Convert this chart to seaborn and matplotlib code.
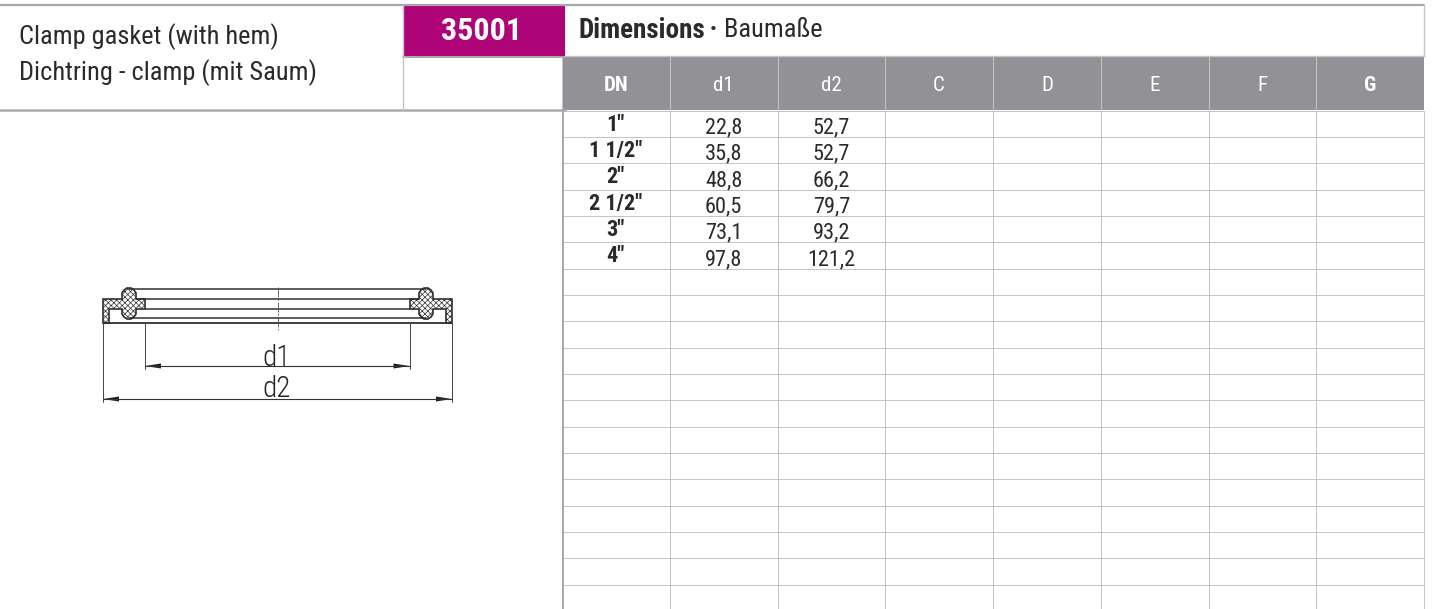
import numpy as np
import pandas as pd
import matplotlib
matplotlib.use('Agg')
import matplotlib.pyplot as plt
import seaborn as sns
from matplotlib.colors import ListedColormap
from matplotlib.patches import Polygon

# table content
columns = ['DN', 'd1', 'd2', 'C', 'D', 'E', 'F', 'G']
dn_sizes = ['1"', '1 1/2"', '2"', '2 1/2"', '3"', '4"']
d1_values = ['22,8', '35,8', '48,8', '60,5', '73,1', '97,8']
d2_values = ['52,7', '52,7', '66,2', '79,7', '93,2', '121,2']
n_rows = 19

title_en = 'Clamp gasket (with hem)'
title_de = 'Dichtring - clamp (mit Saum)'
code = '35001'

W, H = 1432, 609
GRID = '#c4c4c4'
EDGE = '#a9a9ab'
HEAD = '#929195'
MAGENTA = '#ae0478'
INK = '#2b2a2a'
FONT = ['Roboto Condensed', 'Roboto', 'DejaVu Sans']

sns.set_theme(style='white')
plt.rcParams['font.family'] = FONT

fig = plt.figure(figsize=(W / 100, H / 100), dpi=100, facecolor='white')


def px_axes(x0, y0, x1, y1, **kw):
    # axes placed in picture pixels, y going down
    return fig.add_axes([x0 / W, 1 - y1 / H, (x1 - x0) / W, (y1 - y0) / H], **kw)


# page frame and drawing share one pixel canvas
bg = px_axes(0, 0, W, H)
bg.set_xlim(0, W)
bg.set_ylim(H, 0)
bg.axis('off')

bg.fill_between([403, 565], 5, 56, color=MAGENTA, lw=0)
bg.plot([0, 1424], [4.5, 4.5], color=EDGE, lw=1.6)
bg.plot([0, 565], [110, 110], color=EDGE, lw=1.8)
bg.plot([403, 565], [57, 57], color=EDGE, lw=1.4)
bg.plot([403, 403], [5, 110], color=GRID, lw=1.0)
bg.plot([565, 1424], [55.5, 55.5], color=GRID, lw=1.0)
bg.plot([1424, 1424], [5, 56], color=GRID, lw=1.0)

bg.text(19, 36.5, title_en, fontsize=19, color=INK, va='center', ha='left')
bg.text(19, 73, title_de, fontsize=19, color=INK, va='center', ha='left')
bg.text(482, 31, code, fontsize=23, color='white', fontweight='bold', va='center', ha='center')
bg.text(578, 30, 'Dimensions', fontsize=19.5, color=INK, fontweight='bold', va='center', ha='left')
bg.text(713, 30, '•', fontsize=15, color=INK, va='center', ha='center')
bg.text(724, 30, 'Baumaße', fontsize=19, color=INK, va='center', ha='left')

# gasket section, left half, mirrored for the right
section_x = [103, 122, 122, 124, 127, 131, 134, 136, 136, 145, 145, 136, 136, 134, 131,
             127, 124, 122, 122, 109, 109, 103]
section_y = [299, 299, 293, 290, 288, 288, 290, 293, 299, 299, 309, 309, 314, 317, 319,
             319, 317, 314, 309, 309, 323, 323]
plt.rcParams['hatch.linewidth'] = 0.5
for xs in (np.array(section_x), 555 - np.array(section_x)):
    bg.add_patch(Polygon(np.column_stack([xs, section_y]), closed=True, facecolor='white',
                         edgecolor='#303030', hatch='xxxxxx', lw=1.2))

for y, x0, x1, lw in [(288.5, 129, 426, 1.1), (298.5, 136, 419, 1.1), (309, 145, 410, 1.1),
                      (318, 129, 426, 1.1), (323, 103, 452, 1.3)]:
    bg.plot([x0, x1], [y, y], color='#303030', lw=lw, solid_capstyle='butt')
bg.plot([277.5, 277.5], [287, 330], color='#555555', lw=0.6, dashes=(12, 2, 2, 2))

for x, y1 in [(103, 402), (452, 402), (145, 369), (409.5, 369)]:
    bg.plot([x, x], [323, y1], color='#444444', lw=0.7)
for y, x0, x1 in [(366, 145, 409.5), (399, 103, 452)]:
    bg.plot([x0, x1], [y, y], color='#333333', lw=0.8)
    bg.add_patch(Polygon([(x0, y), (x0 + 16, y - 2.5), (x0 + 16, y + 2.5)], color='#222222', lw=0))
    bg.add_patch(Polygon([(x1, y), (x1 - 16, y - 2.5), (x1 - 16, y + 2.5)], color='#222222', lw=0))
bg.text(277, 358, 'd1', fontsize=21, color='#222222', ha='center', va='center', fontweight='light')
bg.text(277, 389, 'd2', fontsize=21, color='#222222', ha='center', va='center', fontweight='light')

# header row
head_ax = px_axes(562, 56, 1424, 110)
sns.heatmap(np.zeros((1, len(columns))), ax=head_ax, cbar=False, cmap=ListedColormap([HEAD]),
            annot=np.array([columns]), fmt='', linewidths=0.7, linecolor='#c4c4c6',
            xticklabels=False, yticklabels=False,
            annot_kws={'fontsize': 15, 'color': 'white'})
for txt, name in zip(head_ax.texts, columns):
    txt.set_color('white')
    x, y = txt.get_position()
    txt.set_position((x, y + 0.04))
    if name in ('DN', 'G'):
        txt.set_fontweight('bold')

# body rows
body = pd.DataFrame('', index=range(n_rows), columns=columns)
body.loc[:len(dn_sizes) - 1, 'DN'] = dn_sizes
body.loc[:len(d1_values) - 1, 'd1'] = d1_values
body.loc[:len(d2_values) - 1, 'd2'] = d2_values

body_ax = px_axes(562, 110.5, 1424, 110.5 + n_rows * 26.35)
sns.heatmap(np.zeros(body.shape), ax=body_ax, cbar=False, cmap=ListedColormap(['white']),
            annot=body.values, fmt='', linewidths=0.7, linecolor=GRID,
            xticklabels=False, yticklabels=False,
            annot_kws={'fontsize': 16, 'color': INK})
body_ax.collections[0].set_clip_on(False)
for i, txt in enumerate(body_ax.texts):
    col = i % len(columns)
    x, y = txt.get_position()
    if col == 0:
        txt.set_fontweight('bold')
        txt.set_position((x, y + 0.04))
    else:
        txt.set_position((x, y + 0.16))
    txt.set_color(INK)

# thicker left border of the table
bg.set_zorder(3)
bg.patch.set_alpha(0)
bg.plot([562.5, 562.5], [110, H], color=EDGE, lw=1.4)

fig.savefig('out.png', dpi=100)
